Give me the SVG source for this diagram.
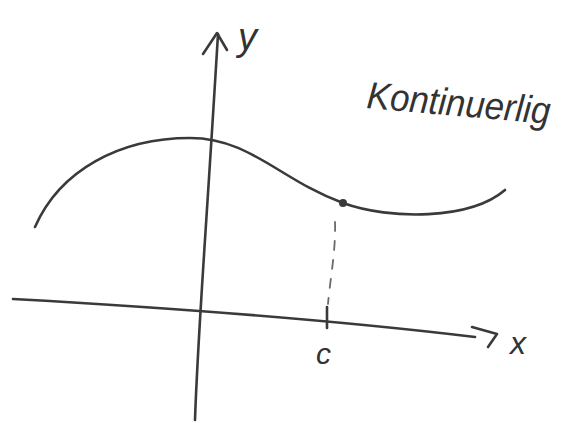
<svg xmlns="http://www.w3.org/2000/svg" width="576" height="423" viewBox="0 0 576 423">
<style>
.ln{fill:none;stroke:#3a3a3a;stroke-width:2.6;stroke-linecap:round;stroke-linejoin:round}
.dash{fill:none;stroke:#6a6a6a;stroke-width:1.8;stroke-dasharray:9 10;stroke-linecap:round}
.hw{font-family:"Liberation Sans","DejaVu Sans",sans-serif;font-style:italic;fill:#333}
</style>
<rect width="576" height="423" fill="#fff"/>
<g id="connectors">
<path id="y-axis" class="ln" d="M195,420 C198,330 205,250 218,34"/>
<path id="y-arrow" class="ln" d="M203,54 L217,33 L227,50"/>
<path id="x-axis" class="ln" d="M13,299 C120,305 300,316 475,337"/>
<path id="x-arrow" class="ln" d="M472,327 L497,334 L488,347"/>
<path id="tick" class="ln" d="M327,307 L327,328"/>
<path id="guide" class="dash" d="M335,222 C336,250 330,280 328,304"/>
</g>
<g id="curve">
<path class="ln" d="M35,227 C60,170 120,138 190,138 C250,138 280,180 343,203 C390,220 470,220 505,190"/>
<circle cx="343" cy="203" r="4" fill="#3a3a3a"/>
</g>
<g id="label-y"><text class="hw" x="238" y="50" font-size="38">y</text></g>
<g id="label-x"><text class="hw" x="510" y="354" font-size="32">x</text></g>
<g id="label-c"><text class="hw" x="316" y="364" font-size="30">c</text></g>
<g id="title"><text class="hw" x="366" y="108" font-size="38" transform="rotate(5 366 108)" textLength="184" lengthAdjust="spacingAndGlyphs">Kontinuerlig</text></g>
</svg>
